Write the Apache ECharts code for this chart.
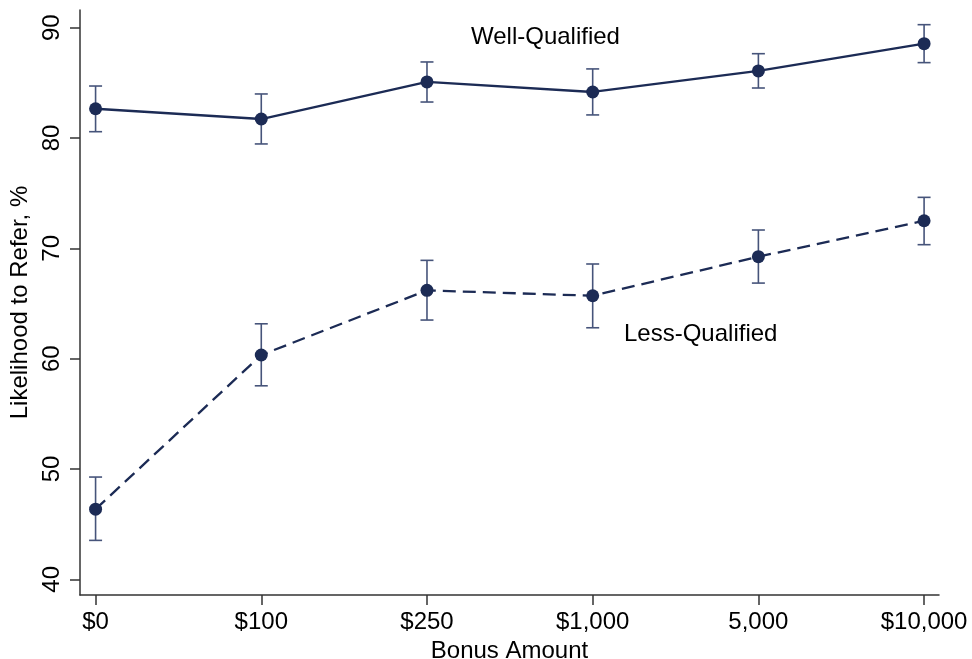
<!DOCTYPE html>
<html>
<head>
<meta charset="utf-8">
<style>
html,body{margin:0;padding:0;background:#fff;}
#chart{width:972px;height:659px;}
</style>
<script src="https://cdn.jsdelivr.net/npm/echarts@6/dist/echarts.min.js"></script>
</head>
<body>
<div id="chart"></div>
<script>
const categories = ['$0', '$100', '$250', '$1,000', '5,000', '$10,000'];
const wellMean  = [82.65, 81.72, 85.08, 84.17, 86.08, 88.55];
const wellLow   = [80.57, 79.46, 83.26, 82.09, 84.53, 86.83];
const wellHigh  = [84.71, 83.99, 86.89, 86.26, 87.64, 90.27];
const lessMean  = [46.36, 60.33, 66.19, 65.70, 69.24, 72.50];
const lessLow   = [43.53, 57.54, 63.50, 62.80, 66.85, 70.33];
const lessHigh  = [49.27, 63.16, 68.91, 68.58, 71.66, 74.62];
const yTicks    = [40, 50, 60, 70, 80, 90];

const NAVY = '#1c2b55';
const BAR = '#46547a';
const FONT = 'Liberation Sans, Arial, sans-serif';
const idx = categories.map((c, i) => i);

function errData(low, high) {
  return idx.map(i => [i, low[i], high[i]]);
}
function errSeries(low, high) {
  return {
    type: 'custom',
    data: errData(low, high),
    z: 2,
    renderItem: function (params, api) {
      const x = api.value(0);
      const lo = api.coord([x, api.value(1)]);
      const hi = api.coord([x, api.value(2)]);
      const w = 6.5;
      const style = { stroke: BAR, lineWidth: 1.6 };
      return {
        type: 'group',
        children: [
          { type: 'line', shape: { x1: lo[0], y1: lo[1], x2: hi[0], y2: hi[1] }, style: style },
          { type: 'line', shape: { x1: lo[0] - w, y1: lo[1], x2: lo[0] + w, y2: lo[1] }, style: style },
          { type: 'line', shape: { x1: hi[0] - w, y1: hi[1], x2: hi[0] + w, y2: hi[1] }, style: style }
        ]
      };
    }
  };
}

const chart = echarts.init(document.getElementById('chart'), null, { renderer: 'canvas' });
chart.setOption({
  animation: false,
  backgroundColor: '#fff',
  grid: { left: 80, right: 33, top: 10, bottom: 64, outerBoundsMode: 'none', containLabel: false },
  xAxis: {
    type: 'value',
    min: -0.094,
    max: 5.09,
    name: 'Bonus Amount',
    nameLocation: 'middle',
    nameGap: 37,
    nameTextStyle: { fontFamily: FONT, fontSize: 24, color: '#000' },
    axisLine: { onZero: false, lineStyle: { color: '#333', width: 1.5 } },
    axisTick: { show: true, length: 10, lineStyle: { color: '#333', width: 1.5 }, customValues: idx },
    axisLabel: {
      customValues: idx,
      formatter: v => categories[Math.round(v)],
      fontFamily: FONT, fontSize: 24, color: '#000', margin: 15
    },
    splitLine: { show: false }
  },
  yAxis: {
    type: 'value',
    min: 38.58,
    max: 91.6,
    name: 'Likelihood to Refer, %',
    nameLocation: 'middle',
    nameGap: 40,
    nameTextStyle: { fontFamily: FONT, fontSize: 24, color: '#000' },
    axisLine: { show: true, onZero: false, lineStyle: { color: '#333', width: 1.5 } },
    axisTick: { show: true, length: 10, lineStyle: { color: '#333', width: 1.5 }, customValues: yTicks },
    axisLabel: {
      customValues: yTicks,
      rotate: 90,
      fontFamily: FONT, fontSize: 24, color: '#000', margin: 16
    },
    splitLine: { show: false }
  },
  graphic: [
    { type: 'text', left: 546 - 75, top: 25, style: { text: 'Well-Qualified', font: '24px ' + FONT, fill: '#000' } },
    { type: 'text', left: 624, top: 322, style: { text: 'Less-Qualified', font: '24px ' + FONT, fill: '#000' } }
  ],
  series: [
    errSeries(wellLow, wellHigh),
    errSeries(lessLow, lessHigh),
    {
      type: 'line',
      data: idx.map(i => [i, wellMean[i]]),
      symbol: 'circle', symbolSize: 13,
      itemStyle: { color: NAVY },
      lineStyle: { color: NAVY, width: 2.3 },
      z: 3
    },
    {
      type: 'line',
      data: idx.map(i => [i, lessMean[i]]),
      symbol: 'circle', symbolSize: 13,
      itemStyle: { color: NAVY },
      lineStyle: { color: NAVY, width: 2.3, type: [13, 7] },
      z: 3
    }
  ]
});
</script>
</body>
</html>
